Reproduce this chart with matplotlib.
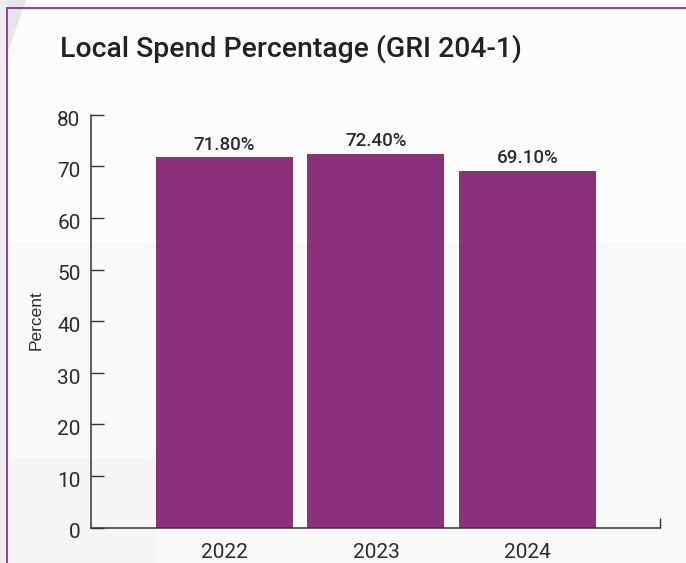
import matplotlib
matplotlib.use("Agg")
import matplotlib.pyplot as plt
import matplotlib.transforms as mtransforms
from matplotlib.patches import Polygon, Rectangle
from matplotlib.lines import Line2D

years = ["2022", "2023", "2024"]
local_spend_pct = [71.8, 72.4, 69.1]
y_ticks = [0, 10, 20, 30, 40, 50, 60, 70, 80]

BAR_COLOR = "#8d307b"
FRAME_COLOR = "#9c3a90"
TEXT_COLOR = "#2b2b2b"

W, H = 686, 563
fig = plt.figure(figsize=(W / 100, H / 100), dpi=100, facecolor="#fcfcfc")

# soft page background behind the card
bg = fig.add_axes([0, 0, 1, 1], zorder=-10)
bg.set_xlim(0, W)
bg.set_ylim(H, 0)
bg.axis("off")
bg.add_patch(Rectangle((0, 0), W, H, color="#fcfcfc", lw=0))
bg.add_patch(Polygon([(0, 243), (W, 243), (W, H), (0, H)], closed=True,
                     color="#f9f9f9", lw=0))
bg.add_patch(Polygon([(0, 459), (157, 459), (157, H), (0, H)], closed=True,
                     color="#f5f5f5", lw=0))
bg.add_patch(Polygon([(0, 0), (26, 0), (7, 55), (0, 75)], closed=True,
                     color="#e6e6e8", lw=0))
bg.add_patch(Rectangle((0, 0), 7, H, color="#ededef", lw=0))
bg.add_line(Line2D([7, 7], [8, H], color=FRAME_COLOR, lw=1.4))
bg.add_line(Line2D([7, W], [8, 8], color=FRAME_COLOR, lw=1.4))

ax = fig.add_axes([91 / W, (H - 527.5) / H, (660 - 91) / W, (527.5 - 114.7) / H])
ax.patch.set_alpha(0)

x = list(range(len(years)))
bars = ax.bar(x, local_spend_pct, width=0.904, color=BAR_COLOR, zorder=2)

ax.set_xlim(-0.881, 2.875)
ax.set_ylim(0, 80)
ax.set_yticks(y_ticks)
ax.set_xticks(x)
ax.set_xticklabels(years)

for s in ["top", "right"]:
    ax.spines[s].set_visible(False)
for s in ["left", "bottom"]:
    ax.spines[s].set_color("#333333")
    ax.spines[s].set_linewidth(1.1)

ax.tick_params(axis="y", direction="in", length=9.6, width=1.0, color="#333333",
               pad=7.5, labelsize=15, labelcolor=TEXT_COLOR)
ax.tick_params(axis="x", length=0, pad=11.5, labelsize=15, labelcolor=TEXT_COLOR)
for lab in ax.get_xticklabels() + ax.get_yticklabels():
    lab.set_fontfamily("Roboto")

# y labels sit slightly below their ticks
shift = mtransforms.ScaledTranslation(0, -3.5 / 100, fig.dpi_scale_trans)
for lab in ax.get_yticklabels():
    lab.set_transform(lab.get_transform() + shift)

# closing tick at the right end of the x axis
ax.plot([1, 1], [0, 10 / 412.8], transform=ax.transAxes, color="#333333",
        lw=1.0, clip_on=False, solid_capstyle="butt")

ax.set_ylabel("Percent", family="Liberation Sans", fontsize=12.5, color=TEXT_COLOR)
ax.yaxis.label.set_va("center")
ax.yaxis.set_label_coords(-0.097, 0.503)

for rect, v in zip(bars, local_spend_pct):
    ax.annotate(f"{v:.2f}%", (rect.get_x() + rect.get_width() / 2, v),
                xytext=(0, 2.5), textcoords="offset points", ha="center", va="bottom",
                family="Roboto", fontweight="medium", fontsize=13.5, color=TEXT_COLOR)

fig.text(60 / W, 1 - 56.7 / H, "Local Spend Percentage (GRI 204-1)", ha="left",
         va="baseline", family="Roboto", fontweight="medium", fontsize=20.4,
         color="#222222")

fig.savefig("out.png", dpi=100, facecolor=fig.get_facecolor())
